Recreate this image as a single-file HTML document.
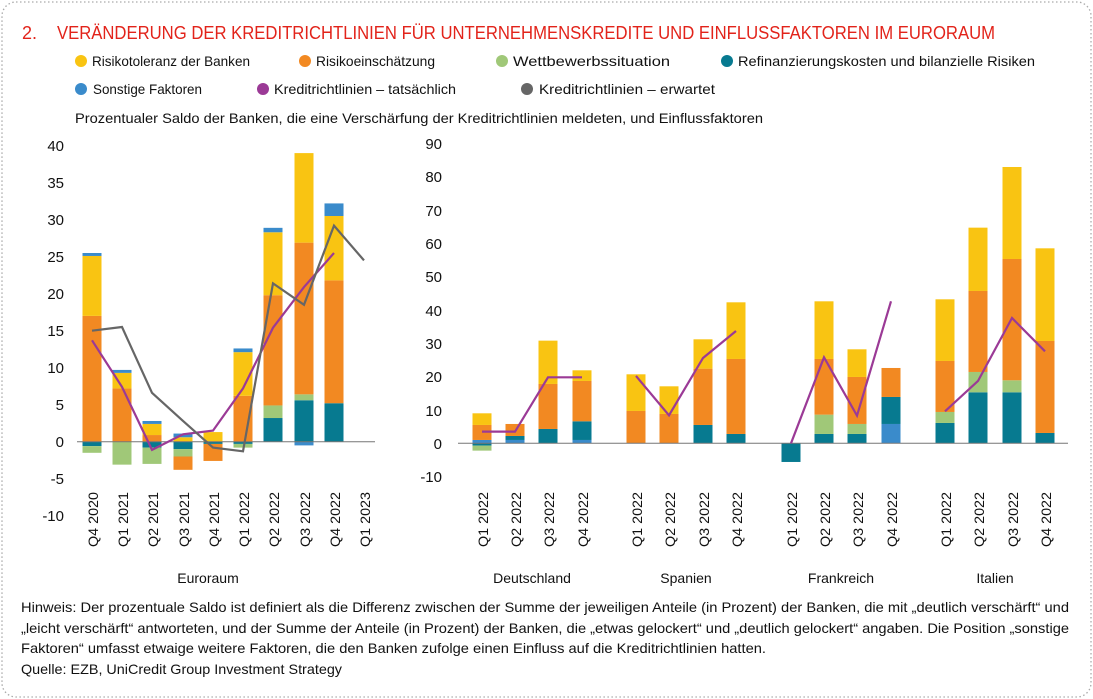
<!DOCTYPE html>
<html><head><meta charset="utf-8"><style>
body{margin:0;background:#fff;}
svg{display:block;font-family:"Liberation Sans",sans-serif;}
</style></head><body>
<svg id="s" width="1093" height="699" viewBox="0 0 1093 699" xmlns="http://www.w3.org/2000/svg">
<rect x="2" y="2" width="1089" height="695" rx="14" fill="none" stroke="#aaa" stroke-width="1.3" stroke-dasharray="1.5 2.5"/>
<text x="22" y="39" font-size="18" fill="#E2231A">2.</text>
<text x="57" y="39" font-size="18" fill="#E2231A" textLength="938" lengthAdjust="spacingAndGlyphs">VERÄNDERUNG DER KREDITRICHTLINIEN FÜR UNTERNEHMENSKREDITE UND EINFLUSSFAKTOREN IM EURORAUM</text>
<g font-size="14" fill="#111">
<circle cx="81" cy="61" r="6" fill="#F9C412"/><text x="92" y="66" textLength="158" lengthAdjust="spacingAndGlyphs">Risikotoleranz der Banken</text>
<circle cx="305" cy="61" r="6" fill="#F28922"/><text x="316" y="66" textLength="119" lengthAdjust="spacingAndGlyphs">Risikoeinschätzung</text>
<circle cx="502" cy="61" r="6" fill="#A0C878"/><text x="513" y="66" textLength="157" lengthAdjust="spacingAndGlyphs">Wettbewerbssituation</text>
<circle cx="727" cy="61" r="6" fill="#077A90"/><text x="738" y="66" textLength="297" lengthAdjust="spacingAndGlyphs">Refinanzierungskosten und bilanzielle Risiken</text>
<circle cx="81" cy="89" r="6" fill="#3A8BCB"/><text x="93" y="94" textLength="109" lengthAdjust="spacingAndGlyphs">Sonstige Faktoren</text>
<circle cx="263" cy="89" r="6" fill="#9B3A96"/><text x="274" y="94" textLength="182" lengthAdjust="spacingAndGlyphs">Kreditrichtlinien – tatsächlich</text>
<circle cx="527" cy="89" r="6" fill="#666"/><text x="539" y="94" textLength="176" lengthAdjust="spacingAndGlyphs">Kreditrichtlinien – erwartet</text>
<text x="75" y="123" textLength="688" lengthAdjust="spacingAndGlyphs">Prozentualer Saldo der Banken, die eine Verschärfung der Kreditrichtlinien meldeten, und Einflussfaktoren</text>
</g>
<g font-size="15" fill="#111" text-anchor="end">
<text x="64" y="151">40</text><text x="64" y="188">35</text><text x="64" y="225">30</text><text x="64" y="262">25</text><text x="64" y="299">20</text><text x="64" y="336">15</text><text x="64" y="373">10</text><text x="64" y="410">5</text><text x="64" y="447">0</text><text x="64" y="484">-5</text><text x="64" y="521">-10</text>
<text x="442" y="149">90</text><text x="442" y="182">80</text><text x="442" y="216">70</text><text x="442" y="249">60</text><text x="442" y="282">50</text><text x="442" y="316">40</text><text x="442" y="349">30</text><text x="442" y="382">20</text><text x="442" y="416">10</text><text x="442" y="449">0</text><text x="442" y="482">-10</text>
</g>
<g id="bars"></g>
<line x1="77" y1="441.7" x2="375" y2="441.7" stroke="#777" stroke-width="1"/>
<line x1="458" y1="443.3" x2="1068" y2="443.3" stroke="#777" stroke-width="1"/>
<g id="lines"></g>
<g font-size="14" fill="#111">
<text transform="translate(98,547) rotate(-90)" textLength="55" lengthAdjust="spacingAndGlyphs">Q4 2020</text>
<text transform="translate(128,547) rotate(-90)" textLength="55" lengthAdjust="spacingAndGlyphs">Q1 2021</text>
<text transform="translate(158,547) rotate(-90)" textLength="55" lengthAdjust="spacingAndGlyphs">Q2 2021</text>
<text transform="translate(189,547) rotate(-90)" textLength="55" lengthAdjust="spacingAndGlyphs">Q3 2021</text>
<text transform="translate(219,547) rotate(-90)" textLength="55" lengthAdjust="spacingAndGlyphs">Q4 2021</text>
<text transform="translate(249,547) rotate(-90)" textLength="55" lengthAdjust="spacingAndGlyphs">Q1 2022</text>
<text transform="translate(279,547) rotate(-90)" textLength="55" lengthAdjust="spacingAndGlyphs">Q2 2022</text>
<text transform="translate(310,547) rotate(-90)" textLength="55" lengthAdjust="spacingAndGlyphs">Q3 2022</text>
<text transform="translate(340,547) rotate(-90)" textLength="55" lengthAdjust="spacingAndGlyphs">Q4 2022</text>
<text transform="translate(370,547) rotate(-90)" textLength="55" lengthAdjust="spacingAndGlyphs">Q1 2023</text>
<text transform="translate(488,547) rotate(-90)" textLength="55" lengthAdjust="spacingAndGlyphs">Q1 2022</text>
<text transform="translate(521,547) rotate(-90)" textLength="55" lengthAdjust="spacingAndGlyphs">Q2 2022</text>
<text transform="translate(554,547) rotate(-90)" textLength="55" lengthAdjust="spacingAndGlyphs">Q3 2022</text>
<text transform="translate(588,547) rotate(-90)" textLength="55" lengthAdjust="spacingAndGlyphs">Q4 2022</text>
<text transform="translate(642,547) rotate(-90)" textLength="55" lengthAdjust="spacingAndGlyphs">Q1 2022</text>
<text transform="translate(675,547) rotate(-90)" textLength="55" lengthAdjust="spacingAndGlyphs">Q2 2022</text>
<text transform="translate(709,547) rotate(-90)" textLength="55" lengthAdjust="spacingAndGlyphs">Q3 2022</text>
<text transform="translate(742,547) rotate(-90)" textLength="55" lengthAdjust="spacingAndGlyphs">Q4 2022</text>
<text transform="translate(797,547) rotate(-90)" textLength="55" lengthAdjust="spacingAndGlyphs">Q1 2022</text>
<text transform="translate(830,547) rotate(-90)" textLength="55" lengthAdjust="spacingAndGlyphs">Q2 2022</text>
<text transform="translate(863,547) rotate(-90)" textLength="55" lengthAdjust="spacingAndGlyphs">Q3 2022</text>
<text transform="translate(897,547) rotate(-90)" textLength="55" lengthAdjust="spacingAndGlyphs">Q4 2022</text>
<text transform="translate(951,547) rotate(-90)" textLength="55" lengthAdjust="spacingAndGlyphs">Q1 2022</text>
<text transform="translate(984,547) rotate(-90)" textLength="55" lengthAdjust="spacingAndGlyphs">Q2 2022</text>
<text transform="translate(1018,547) rotate(-90)" textLength="55" lengthAdjust="spacingAndGlyphs">Q3 2022</text>
<text transform="translate(1051,547) rotate(-90)" textLength="55" lengthAdjust="spacingAndGlyphs">Q4 2022</text>
</g>
<g font-size="14" fill="#111" text-anchor="middle">
<text x="208" y="583">Euroraum</text>
<text x="532" y="583">Deutschland</text>
<text x="686" y="583">Spanien</text>
<text x="841" y="583">Frankreich</text>
<text x="995" y="583">Italien</text>
</g>
<g font-size="14" fill="#111">
<text x="21" y="612" textLength="1048" lengthAdjust="spacingAndGlyphs">Hinweis: Der prozentuale Saldo ist definiert als die Differenz zwischen der Summe der jeweiligen Anteile (in Prozent) der Banken, die mit „deutlich verschärft“ und</text>
<text x="21" y="633" textLength="1048" lengthAdjust="spacingAndGlyphs">„leicht verschärft“ antworteten, und der Summe der Anteile (in Prozent) der Banken, die „etwas gelockert“ und „deutlich gelockert“ angaben. Die Position „sonstige</text>
<text x="21" y="653" textLength="745" lengthAdjust="spacingAndGlyphs">Faktoren“ umfasst etwaige weitere Faktoren, die den Banken zufolge einen Einfluss auf die Kreditrichtlinien hatten.</text>
<text x="21" y="674" textLength="321" lengthAdjust="spacingAndGlyphs">Quelle: EZB, UniCredit Group Investment Strategy</text>
</g>
</svg>
<script>
var C={y:"#F9C412",o:"#F28922",g:"#A0C878",t:"#077A90",b:"#3A8BCB"};
var NS="http://www.w3.org/2000/svg",bg=document.getElementById("bars"),lg=document.getElementById("lines");
function rect(x,y1,y2,c){var r=document.createElementNS(NS,"rect");r.setAttribute("x",x-9.5);r.setAttribute("y",Math.min(y1,y2));r.setAttribute("width",19);r.setAttribute("height",Math.abs(y2-y1));r.setAttribute("fill",C[c]);bg.appendChild(r);}
function bar(x,f,pos,neg){var v=0;pos.forEach(function(p){rect(x,f(v),f(v+p[1]),p[0]);v+=p[1];});v=0;(neg||[]).forEach(function(p){rect(x,f(v),f(v-p[1]),p[0]);v-=p[1];});}
function line(pts,f,col){var p=document.createElementNS(NS,"polyline");p.setAttribute("points",pts.map(function(a){return a[0]+","+f(a[1]);}).join(" "));p.setAttribute("fill","none");p.setAttribute("stroke",col);p.setAttribute("stroke-width",2.2);lg.appendChild(p);}
var L=function(v){return 441.7-7.4*v;},R=function(v){return 443.3-3.333*v;};
bar(92,L,[["o",17],["y",8.1],["b",0.4]],[["t",0.6],["g",0.9]]);
bar(122,L,[["o",7.2],["y",2.1],["b",0.4]],[["g",3.1]]);
bar(152,L,[["o",0.9],["y",1.5],["b",0.4]],[["t",0.8],["g",2.2]]);
bar(183,L,[["y",0.6],["b",0.5]],[["t",1],["g",1],["o",1.8]]);
bar(213,L,[["y",1.3]],[["t",0.3],["o",2.3]]);
bar(243,L,[["o",6.2],["y",5.9],["b",0.5]],[["t",0.3],["g",0.5]]);
bar(273,L,[["t",3.2],["g",1.7],["o",14.9],["y",8.5],["b",0.6]]);
bar(304,L,[["t",5.6],["g",0.8],["o",20.5],["y",12.1]],[["b",0.5]]);
bar(334,L,[["t",5.2],["o",16.6],["y",8.7],["b",1.7]]);
line([[92,13.7],[122,7.4],[152,-1.1],[183,1.0],[213,1.5],[243,7.2],[273,15.4],[304,20.9],[334,25.5]],L,"#9B3A96");
line([[92,15],[122,15.5],[152,6.6],[183,2.8],[213,-0.8],[243,-1.3],[273,21.4],[304,18.5],[334,29.2],[364,24.5]],L,"#666");
bar(482,R,[["b",1],["o",4.5],["y",3.5]],[["t",0.7],["g",1.5]]);
bar(515,R,[["b",1],["t",1.2],["o",3.6]]);
bar(548,R,[["t",4.3],["o",13.5],["y",13]]);
bar(582,R,[["b",1],["t",5.6],["o",12.1],["y",3.2]]);
line([[482,3.5],[515,3.5],[548,19.8],[582,19.8]],R,"#9B3A96");
bar(636,R,[["o",9.7],["y",11]]);
bar(669,R,[["o",8.8],["y",8.3]]);
bar(703,R,[["t",5.5],["o",16.9],["y",8.8]]);
bar(736,R,[["t",2.8],["o",22.5],["y",17]]);
line([[636,20.2],[669,8.4],[703,25.6],[736,33.7]],R,"#9B3A96");
bar(791,R,[],[["t",5.6]]);
bar(824,R,[["t",2.8],["g",5.8],["o",16.7],["y",17.3]]);
bar(857,R,[["t",2.8],["g",3],["o",14.1],["y",8.3]]);
bar(891,R,[["b",5.8],["t",8.1],["o",8.7]]);
line([[791,0],[824,25.8],[857,8.3],[891,42.6]],R,"#9B3A96");
bar(945,R,[["t",6.1],["g",3.3],["o",15.3],["y",18.5]]);
bar(978,R,[["t",15.3],["g",6.1],["o",24.3],["y",19]]);
bar(1012,R,[["t",15.3],["g",3.6],["o",36.4],["y",27.6]]);
bar(1045,R,[["t",3.1],["o",27.6],["y",27.8]]);
line([[945,9.6],[978,18.7],[1012,37.6],[1045,27.6]],R,"#9B3A96");
</script>
</body></html>
